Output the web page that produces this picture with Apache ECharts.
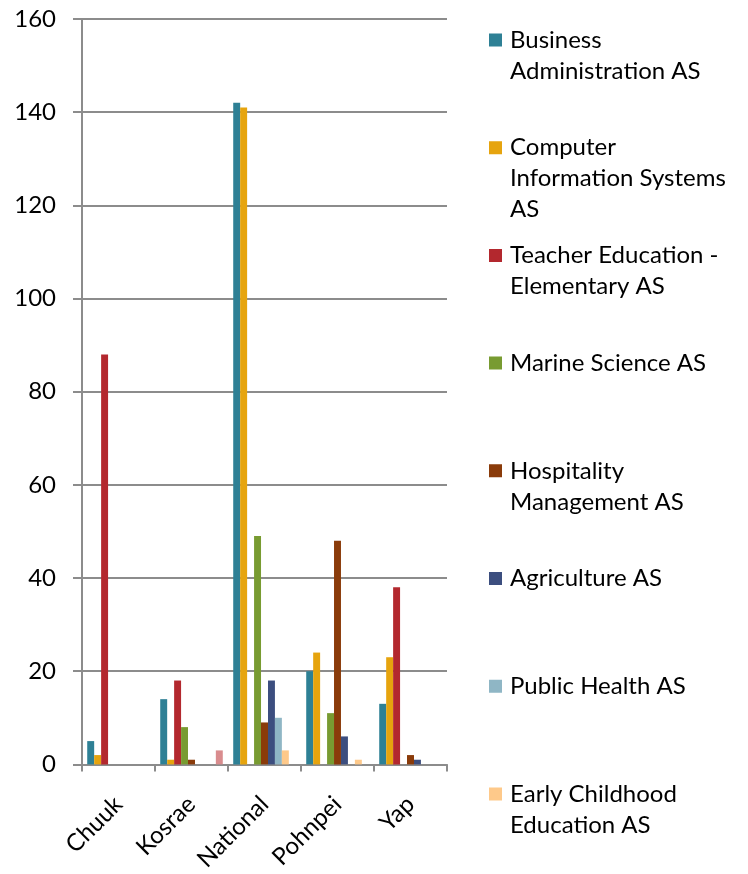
<!DOCTYPE html>
<html>
<head>
<meta charset="utf-8">
<script src="https://cdn.jsdelivr.net/npm/echarts@6/dist/echarts.min.js"></script>
<style>
  html, body { margin: 0; padding: 0; background: #fff; }
  #chart { width: 748px; height: 874px; }
</style>
</head>
<body>
<div id="chart"></div>
<script>
// Enrolment counts by campus and associate degree programme
const campuses = ['Chuuk', 'Kosrae', 'National', 'Pohnpei', 'Yap'];

const businessAdmin   = [5, 14, 142, 20, 13];
const computerInfo    = [2, 1, 141, 24, 23];
const teacherEd       = [88, 18, 0, 0, 38];
const marineScience   = [0, 8, 49, 11, 0];
const hospitality     = [0, 1, 9, 48, 2];
const agriculture     = [0, 0, 18, 6, 1];
const publicHealth    = [0, 0, 10, 0, 0];
const earlyChildhood  = [0, 0, 3, 1, 0];
const otherProgram    = [0, 3, 0, 0, 0];

const yTicks = [0, 20, 40, 60, 80, 100, 120, 140, 160];

// name, legend text (wrapped), values, colour
const programs = [
  ['Business Administration AS', 'Business\nAdministration AS', businessAdmin, '#2e8095'],
  ['Computer Information Systems AS', 'Computer\nInformation Systems\nAS', computerInfo, '#e6a40e'],
  ['Teacher Education - Elementary AS', 'Teacher Education -\nElementary AS', teacherEd, '#b3282e'],
  ['Marine Science AS', 'Marine Science AS', marineScience, '#789b31'],
  ['Hospitality Management AS', 'Hospitality\nManagement AS', hospitality, '#8a3b0a'],
  ['Agriculture AS', 'Agriculture AS', agriculture, '#3c4e7f'],
  ['Public Health AS', 'Public Health AS', publicHealth, '#8fb6c5'],
  ['Early Childhood Education AS', 'Early Childhood\nEducation AS', earlyChildhood, '#fec98a'],
  ['Other AS', null, otherProgram, '#d98c8e']
];

const FONT = 'Lato';
const FONT_SIZE = 24;
const LINE_H = 31;
const LEGEND_STEP = 107.7;

const series = programs.map(p => ({
  name: p[0],
  type: 'bar',
  data: p[2],
  barGap: '0%',
  barCategoryGap: '14.3%',
  itemStyle: { color: p[3] },
  emphasis: { disabled: true }
}));

// One legend block per programme, evenly spaced down the right side;
// the swatch sits beside the first line of its label.
const legends = programs.filter(p => p[1] !== null).map((p, i) => {
  const lines = p[1].split('\n').length;
  const h = lines * LINE_H;
  return {
    data: [p[0]],
    orient: 'vertical',
    left: 489,
    top: 24.5 + i * LEGEND_STEP,
    padding: 0,
    itemWidth: 16,
    itemHeight: h,
    icon: `path://M0,0L16,0M0,9H13V22H0ZM0,${h}L16,${h}`,
    selectedMode: false,
    formatter: () => p[1],
    textStyle: {
      fontFamily: FONT,
      fontSize: FONT_SIZE,
      lineHeight: LINE_H,
      color: '#000'
    }
  };
});

const chart = echarts.init(document.getElementById('chart'), null, { renderer: 'canvas' });
chart.setOption({
  animation: false,
  backgroundColor: '#fff',
  legend: legends,
  grid: { left: 82, right: 301, top: 19, bottom: 107, containLabel: false },
  xAxis: {
    type: 'category',
    data: campuses,
    axisLine: { lineStyle: { color: '#8c8c8c', width: 2 } },
    axisTick: { show: true, length: 7, lineStyle: { color: '#8c8c8c', width: 2 } },
    axisLabel: {
      rotate: 45,
      margin: 36,
      interval: 0,
      fontFamily: FONT,
      fontSize: FONT_SIZE,
      color: '#000'
    }
  },
  yAxis: {
    type: 'value',
    min: yTicks[0],
    max: yTicks[yTicks.length - 1],
    interval: 20,
    axisLine: { show: true, lineStyle: { color: '#8c8c8c', width: 2 } },
    axisTick: { show: true, length: 9, lineStyle: { color: '#8c8c8c', width: 2 } },
    splitLine: { show: true, lineStyle: { color: '#8c8c8c', width: 2 } },
    axisLabel: {
      margin: 26,
      fontFamily: FONT,
      fontSize: FONT_SIZE,
      color: '#000'
    }
  },
  series: series
});
</script>
</body>
</html>
